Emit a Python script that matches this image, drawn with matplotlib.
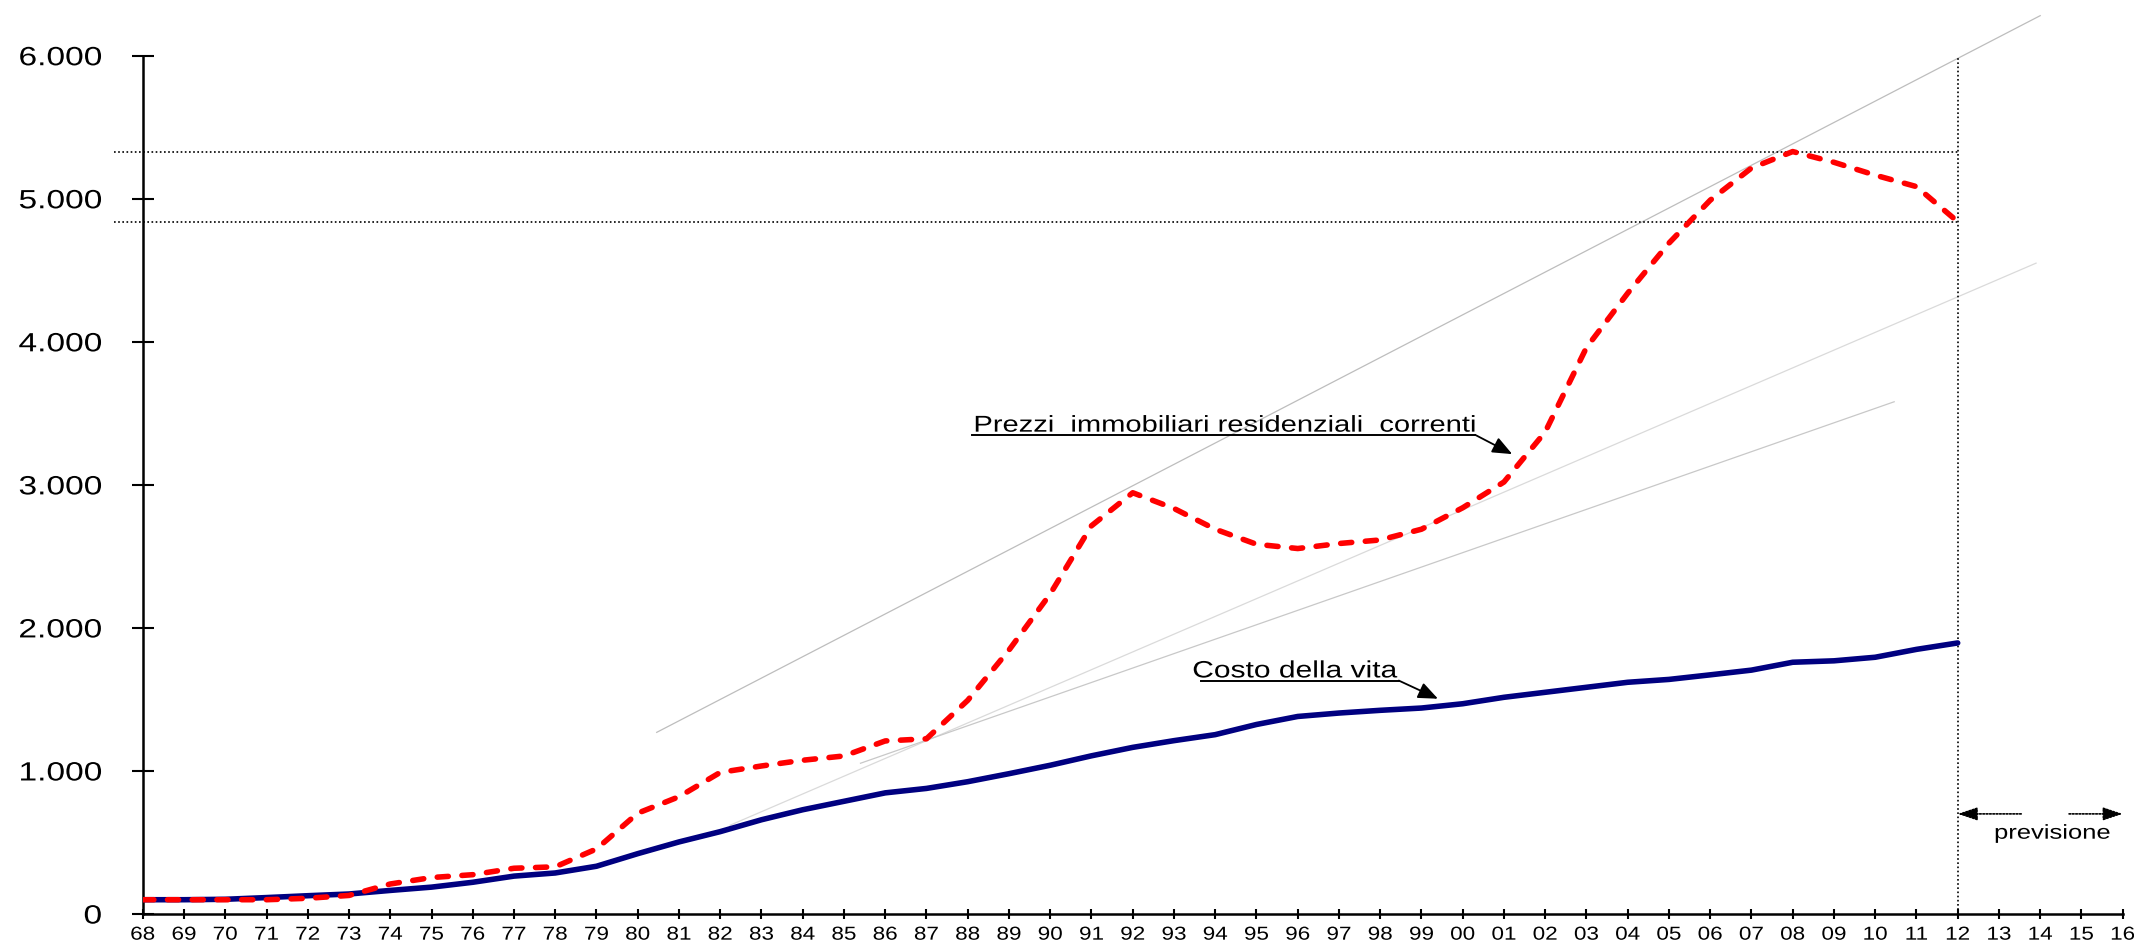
import matplotlib
matplotlib.use('Agg')
import matplotlib.pyplot as plt
from matplotlib.patheffects import AbstractPathEffect
from matplotlib.transforms import Affine2D

plt.rcParams['font.family'] = ['Liberation Sans', 'DejaVu Sans']

# ---- data ----
years = list(range(1968, 2013))
costo_vita = [100, 100, 103, 115, 128, 140, 165, 188, 222, 265, 287, 334, 422, 504,
              576, 659, 729, 788, 847, 878, 925, 981, 1040, 1106, 1165, 1212, 1254,
              1325, 1381, 1405, 1424, 1440, 1470, 1515, 1550, 1585, 1620, 1640, 1672,
              1705, 1760, 1770, 1795, 1850, 1895]
prezzi = [100, 100, 100, 100, 110, 130, 210, 255, 275, 320, 330, 455, 705, 820,
          990, 1035, 1075, 1105, 1210, 1225, 1494, 1845, 2238, 2714, 2945, 2835, 2690,
          2585, 2555, 2590, 2615, 2690, 2840, 3020, 3370, 3960, 4340, 4690, 4990,
          5215, 5330, 5255, 5165, 5085, 4840]

tick_years = list(range(1968, 2017))
tick_labels = [f"{y % 100:02d}" for y in tick_years]
y_ticks = [0, 1000, 2000, 3000, 4000, 5000, 6000]
y_tick_labels = ['0', '1.000', '2.000', '3.000', '4.000', '5.000', '6.000']

# grey trend lines (start/end)
trend_x = [[1980.46, 2014.0], [1982.24, 2013.9], [1985.4, 2010.46]]
trend_y = [[1270, 6280], [621, 4550], [1054, 3581]]
trend_colors = ['#bdbdbd', '#dadada', '#c8c8c8']

label_prezzi = 'Prezzi  immobiliari residenziali  correnti'
label_costo = 'Costo della vita'
label_prev = 'previsione'
forecast_start = 2012
forecast_end = 2016

SX = 1.27  # horizontal stretch of the reference lettering


class HStretch(AbstractPathEffect):
    def __init__(self, sx, anchor='left'):
        super().__init__()
        self.sx = sx
        self.anchor = anchor

    def draw_path(self, renderer, gc, tpath, affine, rgbFace=None):
        bb = tpath.get_extents(affine)
        if self.anchor == 'left':
            a = bb.x0
        elif self.anchor == 'right':
            a = bb.x1
        else:
            a = 0.5 * (bb.x0 + bb.x1)
        aff = affine + Affine2D().translate(-a, 0).scale(self.sx, 1).translate(a, 0)
        renderer.draw_path(gc, tpath, aff, rgbFace)


# ---- figure ----
fig = plt.figure(figsize=(21.34, 9.46), dpi=100)
ax = fig.add_axes([0.0669, 0.0338, 0.9278, 0.9073])
ax.set_xlim(1968, 2016)
ax.set_ylim(0, 6000)

for tx, ty, tc in zip(trend_x, trend_y, trend_colors):
    ax.plot(tx, ty, color=tc, lw=0.9, clip_on=False, zorder=1)

# reference dotted lines
dot = (0, (1, 1.5))
for lvl in [max(prezzi), prezzi[-1]]:
    ax.plot([1967.31, forecast_start], [lvl, lvl], color='black', lw=1.2,
            linestyle=dot, clip_on=False, zorder=2)
ax.plot([forecast_start, forecast_start], [0, y_ticks[-1]], color='black', lw=1.2,
        linestyle=dot, clip_on=False, zorder=2)

ax.plot(years, costo_vita, color='#000080', lw=4.0, solid_joinstyle='round',
        solid_capstyle='round', zorder=3)
ax.plot(years, prezzi, color='#ff0000', lw=4.0, dashes=(2.0, 2.45),
        dash_capstyle='round', dash_joinstyle='round', zorder=4)


def stretched_text(x, y, s, fs, ha, va, anchor):
    t = ax.text(x, y, s, fontsize=fs, ha=ha, va=va, zorder=5)
    t.set_path_effects([HStretch(SX, anchor)])
    return t


# annotations with underline + arrow
def underlined(text, xt, x0, x1, y_line, tip, fs):
    stretched_text(xt, y_line + 22, text, fs, 'left', 'baseline', 'left')
    ax.plot([x0, x1], [y_line, y_line], color='black', lw=1.4, zorder=5)
    ax.annotate('', xy=tip, xytext=(x1, y_line),
                arrowprops=dict(arrowstyle='-|>,head_length=0.6,head_width=0.25',
                                color='black', lw=1.3, mutation_scale=20,
                                shrinkA=0, shrinkB=0), zorder=5)


underlined(label_prezzi, 1988.15, 1988.1, 2000.3, 3350, (2001.2, 3215), 16.5)
underlined(label_costo, 1993.45, 1993.65, 1998.45, 1632, (1999.4, 1505), 17)

# forecast arrows
arrow_y = 700
for start, end in [(2013.54, forecast_start), (2014.7, forecast_end)]:
    ax.annotate('', xy=(end, arrow_y), xytext=(start, arrow_y),
                arrowprops=dict(arrowstyle='-|>,head_length=0.6,head_width=0.2',
                                color='black', lw=1.2, linestyle=(0, (1, 1)),
                                mutation_scale=20, shrinkA=0, shrinkB=0),
                annotation_clip=False)
stretched_text(2014.3, 565, label_prev, 14.5, 'center', 'center', 'center')

# axes styling
for s in ['top', 'right']:
    ax.spines[s].set_visible(False)
ax.spines['left'].set_bounds(0, 6000)
ax.spines['left'].set_linewidth(1.8)
ax.spines['bottom'].set_linewidth(1.8)
ax.set_xticks(tick_years)
ax.set_xticklabels(tick_labels)
ax.set_yticks(y_ticks)
ax.set_yticklabels(y_tick_labels)
ax.tick_params(axis='y', direction='inout', length=16, width=1.5, pad=21.5, labelsize=19)
ax.tick_params(axis='x', direction='inout', length=7.2, width=1.5, pad=5.5, labelsize=13.5)

for lbl in ax.yaxis.get_majorticklabels():
    lbl.set_path_effects([HStretch(SX, 'right')])
for lbl in ax.xaxis.get_majorticklabels():
    lbl.set_path_effects([HStretch(1.2, 'center')])

fig.savefig('out.png', dpi=100)
